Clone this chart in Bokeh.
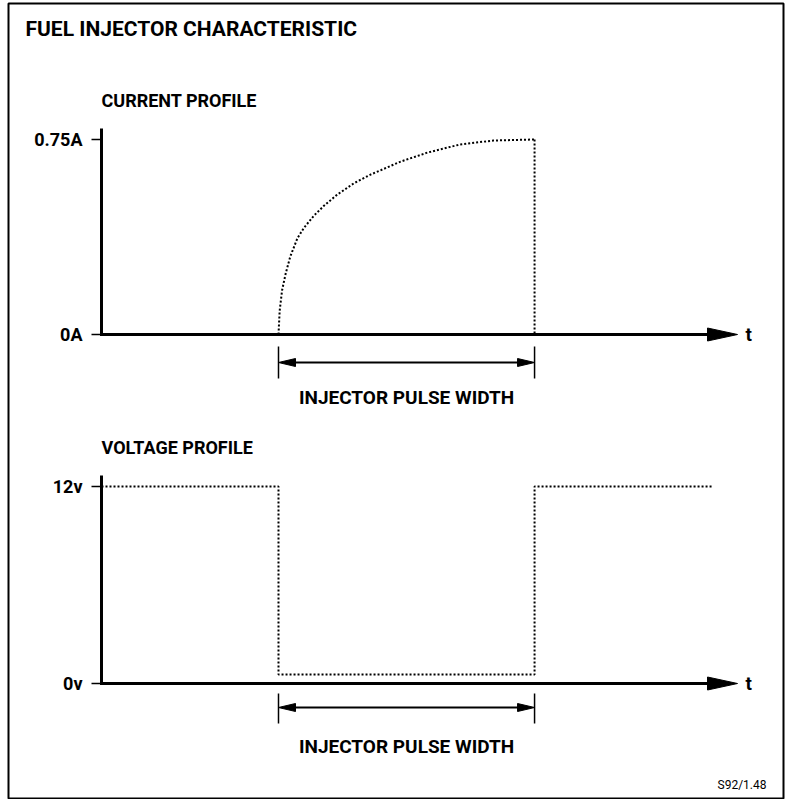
import numpy as np
from bokeh.plotting import figure
from bokeh.models import Range1d
from bokeh.embed import file_html
from bokeh.resources import INLINE
from bokeh.core.properties import value

# ---------------- data ----------------
title_text = "FUEL INJECTOR CHARACTERISTIC"
footnote_text = "S92/1.48"
pulse_label = "INJECTOR PULSE WIDTH"

pulse_start = 3.0      # time units
pulse_end = 7.34
axis_end = 10.78

current_heading = "CURRENT PROFILE"
current_ticks = [0.0, 0.75]
current_tick_labels = ["0A", "0.75A"]
current_t = [3.0, 3.02, 3.06, 3.12, 3.20, 3.32, 3.43, 3.60, 3.77, 3.99, 4.28, 4.56,
             5.07, 5.53, 6.08, 6.64, 7.34]
current_a = [0.0, 0.092, 0.169, 0.233, 0.30, 0.37, 0.41, 0.457, 0.495, 0.537, 0.582, 0.615,
             0.665, 0.70, 0.731, 0.746, 0.75]

voltage_heading = "VOLTAGE PROFILE"
voltage_ticks = [0.0, 12.0]
voltage_tick_labels = ["0v", "12v"]
voltage_t = [0.0, 3.0, 3.0, 7.34, 7.34, 10.36]
voltage_v = [12.0, 12.0, 0.55, 0.55, 12.0, 12.0]

# ---------------- layout (pixels) ----------------
CW, CH = 785, 799          # canvas
BL, BT, BR, BB = 8, 3, 2, 1  # borders around the frame
FW, FH = CW - BL - BR, CH - BT - BB
PX_T = 59.0            # px per time unit
PX_A = 260.0           # px per ampere
PX_V = 197.0 / 12.0    # px per volt
X0 = 93                # frame x of t = 0
Y0_CUR = 331           # frame y (from top) of 0A
Y0_VOLT = 680          # frame y (from top) of 0v

FONT = value("Roboto")
INK = "black"
DOT = "2 2"
DOT_W = 2

p = figure(width=CW, height=CH, output_backend="svg", toolbar_location=None,
           x_range=Range1d(-X0 / PX_T, (FW - X0) / PX_T),
           y_range=Range1d(-(FH - Y0_CUR) / PX_A, Y0_CUR / PX_A),
           x_axis_location=None, y_axis_location=None,
           min_border_left=BL, min_border_top=BT, min_border_right=BR,
           min_border_bottom=BB)
p.extra_y_ranges = {"volt": Range1d(-(FH - Y0_VOLT) / PX_V, Y0_VOLT / PX_V)}
p.grid.visible = False
p.outline_line_color = INK
p.outline_line_width = 2
p.background_fill_color = "white"
p.border_fill_color = "white"


def panel(rn, py, ticks, tick_labels, heading, heading_off, br):
    top_off, bot_off, arr_off = br
    # y axis
    p.segment(x0=[0], y0=[ticks[0] - 1.5 / py], x1=[0], y1=[max(ticks) + 11 / py],
              line_width=3, line_color=INK, y_range_name=rn)
    # ticks
    p.segment(x0=[-10 / PX_T] * len(ticks), y0=ticks, x1=[0] * len(ticks), y1=ticks,
              line_width=1.5, line_color=INK, y_range_name=rn)
    p.text(x=[0] * len(ticks), y=ticks, text=tick_labels, x_offset=-19,
           text_align="right", text_baseline="middle", text_font=FONT,
           text_font_style="bold", text_font_size="18px", text_color=INK, y_range_name=rn)
    # x axis with arrow
    p.segment(x0=[-1.5 / PX_T], y0=[0], x1=[axis_end - 20 / PX_T], y1=[0],
              line_width=3, line_color=INK, y_range_name=rn)
    p.patch(x=[axis_end - 30 / PX_T, axis_end, axis_end - 30 / PX_T],
            y=[6.5 / py, 0, -6.5 / py], color=INK, y_range_name=rn)
    p.text(x=[axis_end], y=[0], text=["t"], x_offset=8, text_align="left",
           text_baseline="middle", text_font=FONT, text_font_style="bold",
           text_font_size="19px", text_color=INK, y_range_name=rn)
    # heading
    p.text(x=[0], y=[heading_off / py], text=[heading], text_align="left",
           text_baseline="middle", text_font=FONT, text_font_style="bold",
           text_font_size="18px", text_color=INK, y_range_name=rn)
    # pulse width bracket
    p.segment(x0=[pulse_start, pulse_end], y0=[-top_off / py] * 2,
              x1=[pulse_start, pulse_end], y1=[-bot_off / py] * 2,
              line_width=1.5, line_color=INK, y_range_name=rn)
    ya = -arr_off / py
    p.segment(x0=[pulse_start + 10 / PX_T], y0=[ya], x1=[pulse_end - 10 / PX_T], y1=[ya],
              line_width=1.8, line_color=INK, y_range_name=rn)
    hl = 17 / PX_T
    hw = 4 / py
    p.patches(xs=[[pulse_start, pulse_start + hl, pulse_start + hl],
                  [pulse_end, pulse_end - hl, pulse_end - hl]],
              ys=[[ya, ya + hw, ya - hw], [ya, ya + hw, ya - hw]],
              color=INK, y_range_name=rn)
    p.text(x=[(pulse_start + pulse_end) / 2], y=[-63 / py], text=[pulse_label],
           text_align="center", text_baseline="middle", text_font=FONT,
           text_font_style="bold", text_font_size="19px", text_color=INK, y_range_name=rn)


panel("default", PX_A, current_ticks, current_tick_labels, current_heading, 234, (12, 44, 28))
panel("volt", PX_V, voltage_ticks, voltage_tick_labels, voltage_heading, 236, (10, 40, 24))

# current profile (dotted)
p.line(current_t, current_a, line_width=DOT_W, line_color=INK, line_dash=DOT)
p.line([current_t[-1], current_t[-1]], [current_a[-1], 0], line_width=DOT_W,
       line_color=INK, line_dash=DOT)

# voltage profile (dotted)
p.line(voltage_t, voltage_v, line_width=DOT_W, line_color=INK, line_dash=DOT,
       y_range_name="volt")

# title and footnote
p.text(x=[-76 / PX_T], y=[306 / PX_A], text=[title_text], text_align="left",
       text_baseline="middle", text_font=FONT, text_font_style="bold",
       text_font_size="21px", text_color=INK)
p.text(x=[665 / PX_T], y=[-101 / PX_V], text=[footnote_text], text_align="right",
       text_baseline="middle", text_font=FONT, text_font_size="12px",
       text_color=INK, y_range_name="volt")

open("out.html", "w").write(file_html(p, INLINE))
